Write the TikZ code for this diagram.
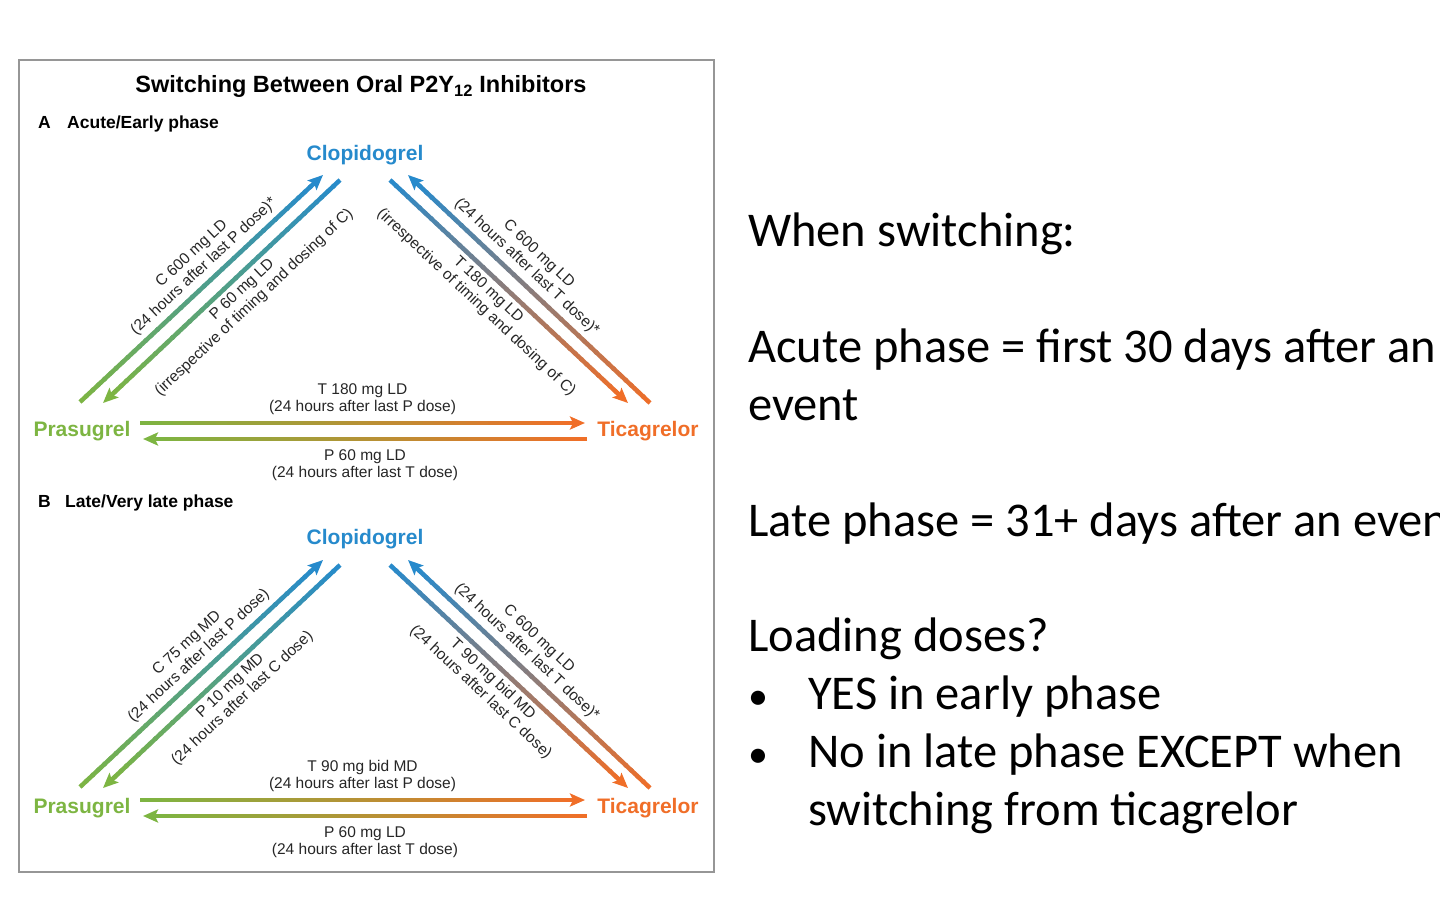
\documentclass[tikz,border=0pt]{standalone}
\usepackage{fontspec}
\setmainfont{Liberation Sans}
\newfontfamily\slidefont{Carlito}
\usetikzlibrary{arrows.meta,calc,positioning}
\definecolor{clopblue}{RGB}{38,138,204}
\definecolor{prasgreen}{RGB}{125,181,66}
\definecolor{ticaorange}{RGB}{240,110,40}
\definecolor{framegray}{RGB}{150,150,150}
\tikzset{
  arrline/.style={line width=4.5pt},
  drug/.style   ={font=\fontsize{21}{24}\selectfont\bfseries,inner sep=0pt},
  dose/.style   ={font=\fontsize{15.5}{17.5}\selectfont,align=center,inner sep=1pt,text=black!85},
  phase/.style  ={font=\fontsize{17.5}{20}\selectfont\bfseries,anchor=base west,inner sep=0pt},
  slide/.style  ={font=\slidefont\fontsize{48.5}{58}\selectfont,anchor=base west,inner sep=0pt},
}
% arrow with a colour run: tail, tip, tail colour, tip colour
\newcommand{\gradarrow}[4]{%
  \coordinate (gs) at (#1);
  \coordinate (ge) at ($(#2)!10pt!(#1)$);
  \foreach \k in {1,...,40}{%
    \pgfmathsetmacro{\pct}{100-100*(\k-0.5)/40}%
    \pgfmathsetmacro{\fa}{(\k-1)/40}%
    \pgfmathsetmacro{\fb}{min(1,(\k+0.3)/40)}%
    \draw[arrline,draw={#3!\pct!#4}] ($(gs)!\fa!(ge)$) -- ($(gs)!\fb!(ge)$);
  }
  \draw[arrline,draw=#4,-{Stealth[length=15pt,width=13pt,inset=3pt]}] (ge) -- (#2);
}

\begin{document}
\begin{tikzpicture}[x=1pt,y=-1pt]
\useasboundingbox (0,0) rectangle (1440,912);
\clip (0,0) rectangle (1440,912);
\draw[framegray,line width=1.5pt] (19,60) rectangle (714,872);
\node[font=\fontsize{23.5}{27}\selectfont\bfseries,anchor=base,inner sep=0pt] (title) at (361,93)
  {Switching Between Oral P2Y\textsubscript{12} Inhibitors};

% panel A
\node[phase] (tagA) at (38,129) {A};
\node[phase] (phaseA) at (67,129) {Acute/Early phase};
\node[drug,text=clopblue] (clopA) at (365,155) {Clopidogrel};
\node[drug,text=prasgreen] (prasA) at (82,431) {Prasugrel};
\node[drug,text=ticaorange] (ticaA) at (648,431) {Ticagrelor};

\coordinate (pcA0) at (80,402);  \coordinate (pcA1) at (323,175);
\coordinate (cpA0) at (340,180); \coordinate (cpA1) at (103,403);
\coordinate (ctA0) at (390,180); \coordinate (ctA1) at (628,403);
\coordinate (tcA0) at (650,403); \coordinate (tcA1) at (408,175);
\coordinate (ptA0) at (140,423); \coordinate (ptA1) at (585,423);
\coordinate (tpA0) at (587,439); \coordinate (tpA1) at (143,439);

\gradarrow{pcA0}{pcA1}{prasgreen}{clopblue}
\gradarrow{cpA0}{cpA1}{clopblue}{prasgreen}
\gradarrow{ctA0}{ctA1}{clopblue}{ticaorange}
\gradarrow{tcA0}{tcA1}{ticaorange}{clopblue}
\gradarrow{ptA0}{ptA1}{prasgreen}{ticaorange}
\gradarrow{tpA0}{tpA1}{ticaorange}{prasgreen}

\path (pcA0) -- (pcA1) node[dose,sloped,above=6pt,pos=0.55] (pcAl) {C 600 mg LD\\(24 hours after last P dose)*};
\path (cpA0) -- (cpA1) node[dose,sloped,below=5pt,pos=0.45] (cpAl) {P 60 mg LD\\(irrespective of timing and dosing of C)};
\path (ctA0) -- (ctA1) node[dose,sloped,below=5pt,pos=0.45] (ctAl) {T 180 mg LD\\(irrespective of timing and dosing of C)};
\path (tcA0) -- (tcA1) node[dose,sloped,above=6pt,pos=0.55] (tcAl) {C 600 mg LD\\(24 hours after last T dose)*};
\path (ptA0) -- (ptA1) node[dose,above=7pt,midway] (ptAl) {T 180 mg LD\\(24 hours after last P dose)};
\path (tpA0) -- (tpA1) node[dose,below=9pt,midway] (tpAl) {P 60 mg LD\\(24 hours after last T dose)};

% panel B
\node[phase] (tagB) at (38,507) {B};
\node[phase] (phaseB) at (65,507) {Late/Very late phase};
\node[drug,text=clopblue] (clopB) at (365,539) {Clopidogrel};
\node[drug,text=prasgreen] (prasB) at (82,808) {Prasugrel};
\node[drug,text=ticaorange] (ticaB) at (648,808) {Ticagrelor};

\coordinate (pcB0) at (80,787);  \coordinate (pcB1) at (323,560);
\coordinate (cpB0) at (340,565); \coordinate (cpB1) at (103,788);
\coordinate (ctB0) at (390,565); \coordinate (ctB1) at (628,788);
\coordinate (tcB0) at (650,788); \coordinate (tcB1) at (408,560);
\coordinate (ptB0) at (140,800); \coordinate (ptB1) at (585,800);
\coordinate (tpB0) at (587,816); \coordinate (tpB1) at (143,816);

\gradarrow{pcB0}{pcB1}{prasgreen}{clopblue}
\gradarrow{cpB0}{cpB1}{clopblue}{prasgreen}
\gradarrow{ctB0}{ctB1}{clopblue}{ticaorange}
\gradarrow{tcB0}{tcB1}{ticaorange}{clopblue}
\gradarrow{ptB0}{ptB1}{prasgreen}{ticaorange}
\gradarrow{tpB0}{tpB1}{ticaorange}{prasgreen}

\path (pcB0) -- (pcB1) node[dose,sloped,above=6pt,pos=0.53] (pcBl) {C 75 mg MD\\(24 hours after last P dose)};
\path (cpB0) -- (cpB1) node[dose,sloped,below=5pt,pos=0.5] (cpBl) {P 10 mg MD\\(24 hours after last C dose)};
\path (ctB0) -- (ctB1) node[dose,sloped,below=5pt,pos=0.47] (ctBl) {T 90 mg bid MD\\(24 hours after last C dose)};
\path (tcB0) -- (tcB1) node[dose,sloped,above=6pt,pos=0.55] (tcBl) {C 600 mg LD\\(24 hours after last T dose)*};
\path (ptB0) -- (ptB1) node[dose,above=7pt,midway] (ptBl) {T 90 mg bid MD\\(24 hours after last P dose)};
\path (tpB0) -- (tpB1) node[dose,below=9pt,midway] (tpBl) {P 60 mg LD\\(24 hours after last T dose)};

% slide text
\node[slide] (sw) at (748,247) {When switching:};
\node[slide] (acute) at (748,362.6) {Acute phase = first 30 days after an};
\node[slide] (acute2) at (748,420.4) {event};
\node[slide] (late) at (748,536) {Late phase = 31+ days after an event};
\node[slide] (load) at (748,651.6) {Loading doses?};
\node[slide,font=\slidefont\fontsize{40}{58}\selectfont] (dot1) at (748,709.4) {•};
\node[slide] (yes) at (808,709.4) {YES in early phase};
\node[slide,font=\slidefont\fontsize{40}{58}\selectfont] (dot2) at (748,767.2) {•};
\node[slide] (no) at (808,767.2) {No in late phase EXCEPT when};
\node[slide] (no2) at (808,825) {switching from ticagrelor};
\end{tikzpicture}
\end{document}
